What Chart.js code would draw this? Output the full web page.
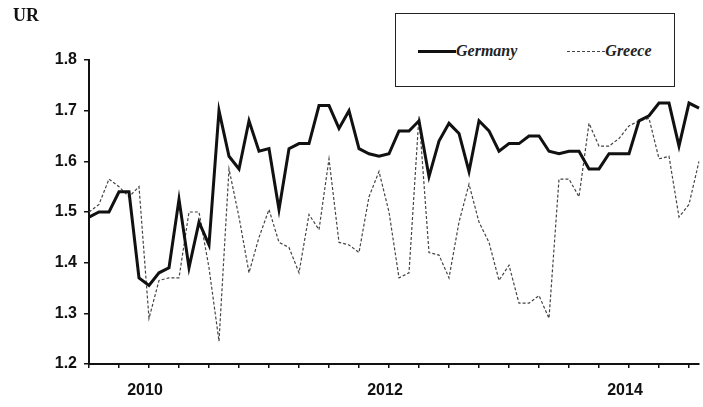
<!DOCTYPE html>
<html>
<head>
<meta charset="utf-8">
<script src="https://cdn.jsdelivr.net/npm/chart.js@4.4.1/dist/chart.umd.min.js"></script>
<style>
  html, body { margin: 0; padding: 0; background: #fff; }
  #wrap { position: relative; width: 703px; height: 407px; }
  #ur {
    position: absolute; left: 13px; top: 5px;
    font-family: "Liberation Serif", "Times New Roman", serif;
    font-size: 18px; font-weight: bold; color: #111;
  }
  #legend {
    position: absolute; left: 395px; top: 13px; width: 280px; height: 74px;
    border: 1.5px solid #222; background: #fff;
    display: flex; align-items: center; padding-left: 22px; padding-top: 2px; box-sizing: border-box;
    font-family: "Liberation Serif", "Times New Roman", serif;
    font-style: italic; font-weight: bold; font-size: 16px; color: #222;
  }
  #legend .item { display: flex; align-items: center; margin-right: 50px; }
  #legend .sample { width: 38px; height: 0; }
</style>
</head>
<body>
<div id="wrap">
  <canvas id="urChart" width="703" height="407"></canvas>
  <div id="ur">UR</div>
  <div id="legend"></div>
</div>
<script>
// Series: monthly, Jul 2009 - Aug 2014
const startYear = 2009;
const startMonth = 7;
const yearTicks = ['2010', '2012', '2014'];

const germany = [
  1.49, 1.50, 1.50, 1.54, 1.54, 1.37, 1.355, 1.38, 1.39, 1.525,
  1.39, 1.48, 1.435, 1.70, 1.61, 1.585, 1.68, 1.62, 1.625, 1.505,
  1.625, 1.635, 1.635, 1.71, 1.71, 1.665, 1.70, 1.625, 1.615, 1.61,
  1.615, 1.66, 1.66, 1.68, 1.57, 1.64, 1.675, 1.655, 1.58, 1.68,
  1.66, 1.62, 1.635, 1.635, 1.65, 1.65, 1.62, 1.615, 1.62, 1.62,
  1.585, 1.585, 1.615, 1.615, 1.615, 1.68, 1.69, 1.715, 1.715, 1.63,
  1.715, 1.705
];

const greece = [
  1.50, 1.515, 1.565, 1.55, 1.53, 1.55, 1.29, 1.365, 1.37, 1.37,
  1.50, 1.50, 1.39, 1.245, 1.585, 1.49, 1.38, 1.45, 1.505, 1.44,
  1.43, 1.38, 1.495, 1.465, 1.605, 1.44, 1.435, 1.42, 1.53, 1.58,
  1.50, 1.37, 1.38, 1.69, 1.42, 1.415, 1.37, 1.48, 1.555, 1.48,
  1.44, 1.365, 1.395, 1.32, 1.32, 1.335, 1.29, 1.565, 1.565, 1.53,
  1.675, 1.63, 1.63, 1.645, 1.67, 1.68, 1.685, 1.605, 1.61, 1.49,
  1.515, 1.60
];

// month labels like "2009-07"
const months = [];
for (let i = 0; i < germany.length; i++) {
  const m = startMonth - 1 + i;
  const y = startYear + Math.floor(m / 12);
  months.push(y + '-' + String((m % 12) + 1).padStart(2, '0'));
}

const ctx = document.getElementById('urChart').getContext('2d');
const chart = new Chart(ctx, {
  type: 'line',
  data: {
    labels: months,
    datasets: [
      {
        label: 'Germany',
        data: germany,
        borderColor: '#111',
        borderWidth: 3,
        pointRadius: 0,
        tension: 0,
        fill: false
      },
      {
        label: 'Greece',
        data: greece,
        borderColor: '#444',
        borderWidth: 1.2,
        borderDash: [3, 2],
        pointRadius: 0,
        tension: 0,
        fill: false
      }
    ]
  },
  options: {
    responsive: false,
    animation: false,
    layout: { padding: { top: 60, right: 4, left: 0, bottom: 0 } },
    plugins: {
      legend: { display: false },
      tooltip: { enabled: false }
    },
    scales: {
      x: {
        offset: false,
        afterFit: (scale) => { scale.height = 43; },
        border: { color: '#111', width: 2 },
        grid: { drawOnChartArea: false, tickLength: 4, color: '#111', lineWidth: 1.5 },
        ticks: {
          autoSkip: false,
          maxRotation: 0,
          padding: 13,
          labelOffset: -4,
          color: '#111',
          font: { family: 'Liberation Sans, Arial, sans-serif', size: 16, weight: 'bold' },
          callback: (v, i) => {
            const [y, m] = months[i].split('-');
            if (m === '01' && yearTicks.includes(y)) return y;
            return i % 3 === 0 ? '' : null;
          }
        }
      },
      y: {
        min: 1.2,
        max: 1.8,
        afterFit: (scale) => { scale.width = 89; },
        border: { color: '#111', width: 2 },
        grid: { drawOnChartArea: false, tickLength: 5, color: '#111', lineWidth: 1.5 },
        ticks: {
          stepSize: 0.1,
          padding: 7,
          color: '#111',
          font: { family: 'Liberation Sans, Arial, sans-serif', size: 16, weight: 'bold' },
          callback: (v) => v.toFixed(1)
        }
      }
    }
  }
});

// legend box from the datasets
const legendEl = document.getElementById('legend');
chart.data.datasets.forEach(ds => {
  const item = document.createElement('div');
  item.className = 'item';
  const sample = document.createElement('span');
  sample.className = 'sample';
  sample.style.borderTop = ds.borderDash ? '1px dashed ' + ds.borderColor : ds.borderWidth + 'px solid ' + ds.borderColor;
  const text = document.createElement('span');
  text.textContent = ds.label;
  item.appendChild(sample);
  item.appendChild(text);
  legendEl.appendChild(item);
});
</script>
</body>
</html>
